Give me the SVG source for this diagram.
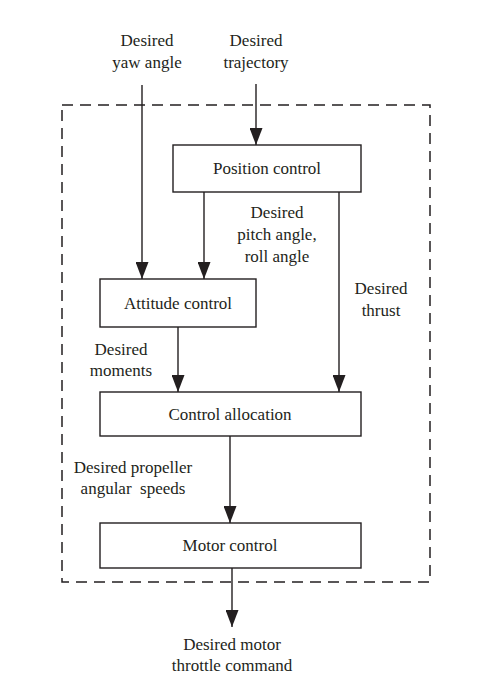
<svg xmlns="http://www.w3.org/2000/svg" width="478" height="694" viewBox="0 0 478 694">
<style>
text{font-family:"Liberation Serif","Times New Roman",serif;font-size:17px;fill:#231f20;text-anchor:middle}
.box{fill:#fff;stroke:#231f20;stroke-width:1.4}
.ln{stroke:#231f20;stroke-width:1.4;fill:none}
.dash{fill:none;stroke:#231f20;stroke-width:1.5;stroke-dasharray:11 7}
</style>
<defs>
<marker id="ah" viewBox="0 0 17 13" refX="17" refY="6.5" markerWidth="17" markerHeight="13" markerUnits="userSpaceOnUse" orient="auto">
<path d="M0,0 L17,6.5 L0,13 z" fill="#231f20"/>
</marker>
</defs>
<rect class="dash" x="62" y="105" width="368" height="477"/>
<g id="connectors">
<line class="ln" x1="142" y1="85" x2="142" y2="279" marker-end="url(#ah)"/>
<line class="ln" x1="256" y1="84" x2="256" y2="145" marker-end="url(#ah)"/>
<line class="ln" x1="204" y1="192" x2="204" y2="279" marker-end="url(#ah)"/>
<line class="ln" x1="339" y1="192" x2="339" y2="392" marker-end="url(#ah)"/>
<line class="ln" x1="178" y1="327" x2="178" y2="392" marker-end="url(#ah)"/>
<line class="ln" x1="230" y1="436" x2="230" y2="523" marker-end="url(#ah)"/>
<line class="ln" x1="232" y1="568" x2="232" y2="627" marker-end="url(#ah)"/>
</g>
<g id="labels">
<text x="147" y="46">Desired</text>
<text x="147" y="68">yaw angle</text>
<text x="256" y="46">Desired</text>
<text x="256" y="68">trajectory</text>
<text x="277" y="218">Desired</text>
<text x="277" y="240">pitch angle,</text>
<text x="277" y="262">roll angle</text>
<text x="381" y="294">Desired</text>
<text x="381" y="316">thrust</text>
<text x="121" y="355">Desired</text>
<text x="121" y="376">moments</text>
<text x="133" y="473">Desired propeller</text>
<text x="133" y="494" xml:space="preserve">angular  speeds</text>
<text x="232" y="650">Desired motor</text>
<text x="232" y="671">throttle command</text>
</g>
<g id="position-control">
<rect class="box" x="173" y="145" width="188" height="47"/>
<text x="267" y="174">Position control</text>
</g>
<g id="attitude-control">
<rect class="box" x="100" y="279" width="156" height="48"/>
<text x="178" y="309">Attitude control</text>
</g>
<g id="control-allocation">
<rect class="box" x="100" y="392" width="261" height="44"/>
<text x="230" y="420">Control allocation</text>
</g>
<g id="motor-control">
<rect class="box" x="100" y="523" width="261" height="45"/>
<text x="230" y="551">Motor control</text>
</g>
</svg>
